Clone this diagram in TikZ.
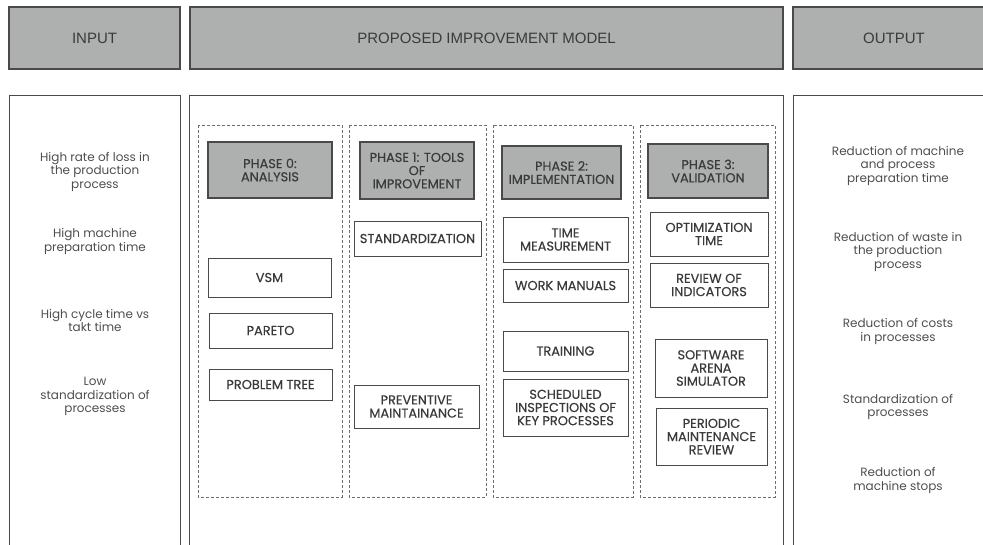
\documentclass[tikz,border=0pt]{standalone}
\usepackage{fontspec}
\setmainfont{Poppins}
\newfontfamily\headfont{Liberation Sans}
\newfontfamily\boxfont{Poppins}[FakeBold=0.35]
\definecolor{boxgray}{HTML}{ADB0AE}
\definecolor{linegray}{HTML}{4A4A4A}
\definecolor{txtgray}{HTML}{3A3A3A}
\begin{document}
\begin{tikzpicture}[
    x=1pt, y=-1pt,
    header/.style={draw=linegray, line width=1.2pt, fill=boxgray, text=txtgray,
        font=\headfont\fontsize{15}{17}\selectfont, inner sep=0pt},
    frame/.style={draw=linegray, line width=1pt},
    phasebox/.style={draw=linegray!80, line width=0.8pt, dash pattern=on 3pt off 2pt},
    phasehead/.style={draw=linegray, line width=1.2pt, fill=boxgray, text=txtgray, align=center,
        font=\boxfont\fontsize{12.9}{13.2}\selectfont, inner sep=0pt},
    tool/.style={draw=linegray, line width=1pt, fill=white, text=txtgray, align=center,
        font=\boxfont\fontsize{12.9}{13.2}\selectfont, inner sep=0pt},
    item/.style={text=txtgray!90, align=center, font=\fontsize{12}{13.5}\selectfont, inner sep=0pt}
]
\useasboundingbox (0,0) rectangle (983,544);

\node[header, minimum width=171pt, minimum height=62pt] (inhead) at (94.5,38) {INPUT};
\node[header, minimum width=593pt, minimum height=62pt] (modelhead) at (486.5,38) {PROPOSED IMPROVEMENT MODEL};
\node[header, minimum width=202pt, minimum height=62pt] (outhead) at (894,38) {OUTPUT};

\draw[frame] (9,550) -- (9,95) -- (180,95) -- (180,550);
\draw[frame] (189,550) -- (189,95) -- (783,95) -- (783,550);
\draw[frame] (793,550) -- (793,95) -- (990,95);

\draw[phasebox] (198,125) rectangle (342,497);
\draw[phasebox] (349,125) rectangle (486,497);
\draw[phasebox] (493,125) rectangle (633,497);
\draw[phasebox] (640,125) rectangle (775,497);

\node[item] (in1) at (95,171.5) {High rate of loss in\\the production\\process};
\node[item] (in2) at (95,241.5) {High machine\\preparation time};
\node[item] (in3) at (95,320.5) {High cycle time vs\\takt time};
\node[item] (in4) at (95,396.5) {Low\\standardization of\\processes};

\node[phasehead, minimum width=124pt, minimum height=56pt] (ph0) at (270,170) {PHASE 0:\\ANALYSIS};
\node[phasehead, minimum width=114pt, minimum height=57pt] (ph1) at (417,170.5) {PHASE 1: TOOLS\\OF\\IMPROVEMENT};
\node[phasehead, minimum width=119pt, minimum height=53pt] (ph2) at (561.5,172.5) {PHASE 2:\\IMPLEMENTATION};
\node[phasehead, minimum width=120pt, minimum height=54pt] (ph3) at (708,171) {PHASE 3:\\VALIDATION};

\node[tool, minimum width=123pt, minimum height=39pt] (vsm) at (269.5,277.5) {VSM};
\node[tool, minimum width=123pt, minimum height=35pt] (pareto) at (270.5,330.5) {PARETO};
\node[tool, minimum width=123pt, minimum height=31pt] (tree) at (270.5,384.5) {PROBLEM TREE};

\node[tool, minimum width=127pt, minimum height=35pt] (std) at (417.5,238.5) {STANDARDIZATION};
\node[tool, minimum width=125pt, minimum height=43pt] (prev) at (416.5,406.5) {PREVENTIVE\\MAINTAINANCE};

\node[tool, minimum width=125pt, minimum height=45pt] (timem) at (565.5,239.5) {TIME\\MEASUREMENT};
\node[tool, minimum width=125pt, minimum height=33pt] (manuals) at (565.5,285.5) {WORK MANUALS};
\node[tool, minimum width=125pt, minimum height=40pt] (training) at (565.5,351) {TRAINING};
\node[tool, minimum width=125pt, minimum height=57pt] (sched) at (565.5,407.5) {SCHEDULED\\INSPECTIONS OF\\KEY PROCESSES};

\node[tool, minimum width=118pt, minimum height=44pt] (optim) at (709,234) {OPTIMIZATION\\TIME};
\node[tool, minimum width=118pt, minimum height=44pt] (review) at (709,285) {REVIEW OF\\INDICATORS};
\node[tool, minimum width=112pt, minimum height=58pt] (arena) at (711,368) {SOFTWARE\\ARENA\\SIMULATOR};
\node[tool, minimum width=111pt, minimum height=57pt] (periodic) at (711.5,436.5) {PERIODIC\\MAINTENANCE\\REVIEW};

\node[item] (out1) at (898,165.5) {Reduction of machine\\and process\\preparation time};
\node[item] (out2) at (898,251.5) {Reduction of waste in\\the production\\process};
\node[item] (out3) at (898,331.5) {Reduction of costs\\in processes};
\node[item] (out4) at (898,407) {Standardization of\\processes};
\node[item] (out5) at (898,480.5) {Reduction of\\machine stops};
\end{tikzpicture}
\end{document}
